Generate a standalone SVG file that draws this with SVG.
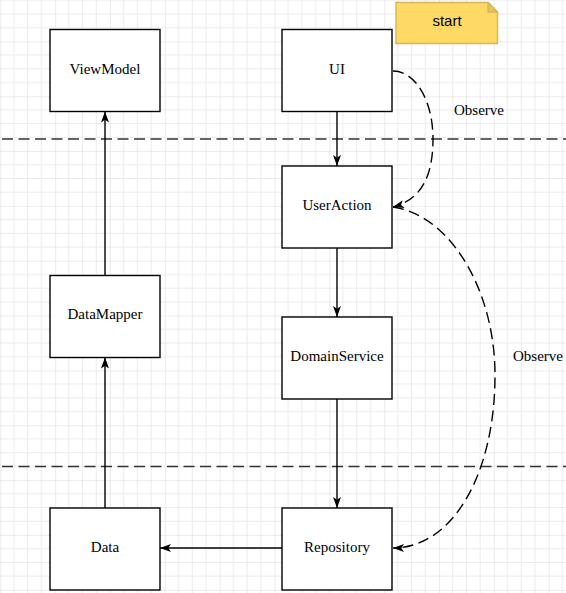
<svg xmlns="http://www.w3.org/2000/svg" width="566" height="593" viewBox="0 0 566 593">
  <defs>
    <pattern id="grid" patternUnits="userSpaceOnUse" x="0.3" y="41.4" width="54.84" height="54.84">
      <g stroke="#ebebeb" stroke-width="1" fill="none">
        <line x1="13.71" y1="0" x2="13.71" y2="54.84"/>
        <line x1="27.42" y1="0" x2="27.42" y2="54.84"/>
        <line x1="41.13" y1="0" x2="41.13" y2="54.84"/>
        <line x1="0" y1="13.71" x2="54.84" y2="13.71"/>
        <line x1="0" y1="27.42" x2="54.84" y2="27.42"/>
        <line x1="0" y1="41.13" x2="54.84" y2="41.13"/>
      </g>
      <g stroke="#d9d9d9" stroke-width="1" fill="none">
        <line x1="0" y1="0" x2="0" y2="54.84"/>
        <line x1="0" y1="0" x2="54.84" y2="0"/>
      </g>
    </pattern>
    <marker id="arrow" markerUnits="userSpaceOnUse" markerWidth="13" markerHeight="9" refX="11" refY="4" orient="auto" overflow="visible">
      <path d="M0,0 L11,4 L0,8 L2.7,4 Z" fill="#000" stroke="none"/>
    </marker>
    <style>
      .box { fill: #ffffff; stroke: #000000; stroke-width: 1.4; }
      .lbl { font-family: "Liberation Serif", "Times New Roman", serif; font-size: 15px; fill: #000000; text-anchor: middle; }
      .edge { fill: none; stroke: #000000; stroke-width: 1.4; }
      .dash { fill: none; stroke: #000000; stroke-width: 1.4; stroke-dasharray: 11 5.5; }
      .sep { fill: none; stroke: #333333; stroke-width: 1.5; stroke-dasharray: 11 5.5; }
    </style>
  </defs>

  <rect x="0" y="0" width="566" height="593" fill="#ffffff"/>
  <rect x="0" y="0" width="566" height="593" fill="url(#grid)"/>

  <g id="separators">
    <line class="sep" x1="2" y1="139" x2="566" y2="139"/>
    <line class="sep" x1="2" y1="466.5" x2="566" y2="466.5"/>
  </g>

  <g id="connectors">
    <path class="edge" d="M337,111.5 L337,166" marker-end="url(#arrow)"/>
    <path class="edge" d="M337,248 L337,317" marker-end="url(#arrow)"/>
    <path class="edge" d="M337,399 L337,508" marker-end="url(#arrow)"/>
    <path class="edge" d="M282,548 L160,548" marker-end="url(#arrow)"/>
    <path class="edge" d="M105,508 L105,357.5" marker-end="url(#arrow)"/>
    <path class="edge" d="M105,275.5 L105,111.5" marker-end="url(#arrow)"/>
    <path class="dash" d="M393,71 C415,71 433,100 433,139 C433,178 420,200 393,207" marker-end="url(#arrow)"/>
    <path class="dash" d="M393,207 C450,215 495,290 495,375 C495,475 452,548 393,548" marker-end="url(#arrow)"/>
    <text class="lbl" x="479" y="115">Observe</text>
    <text class="lbl" x="538" y="361">Observe</text>
  </g>

  <g id="start">
    <path d="M396,2.5 H488 L497.5,12 V43.5 H396 Z" fill="#ffd966" stroke="#d6b656" stroke-width="1.4"/>
    <path d="M488,2.5 V12 H497.5 Z" fill="#e6c35c" stroke="#d6b656" stroke-width="1.4" stroke-linejoin="round"/>
    <text x="447" y="26" font-family="'Liberation Sans', Arial, sans-serif" font-size="15" text-anchor="middle" fill="#000000">start</text>
  </g>

  <g id="ViewModel">
    <rect class="box" x="50" y="29.5" width="110" height="82"/>
    <text class="lbl" x="105" y="74">ViewModel</text>
  </g>
  <g id="UI">
    <rect class="box" x="282" y="29.5" width="110" height="82"/>
    <text class="lbl" x="337" y="74">UI</text>
  </g>
  <g id="UserAction">
    <rect class="box" x="282" y="166" width="110" height="82"/>
    <text class="lbl" x="337" y="210">UserAction</text>
  </g>
  <g id="DataMapper">
    <rect class="box" x="50" y="275.5" width="110" height="82"/>
    <text class="lbl" x="105" y="319">DataMapper</text>
  </g>
  <g id="DomainService">
    <rect class="box" x="282" y="317" width="110" height="82"/>
    <text class="lbl" x="337" y="360.5">DomainService</text>
  </g>
  <g id="Data">
    <rect class="box" x="50" y="508" width="110" height="82"/>
    <text class="lbl" x="105" y="552">Data</text>
  </g>
  <g id="Repository">
    <rect class="box" x="282" y="508" width="110" height="82"/>
    <text class="lbl" x="337" y="552">Repository</text>
  </g>
</svg>
